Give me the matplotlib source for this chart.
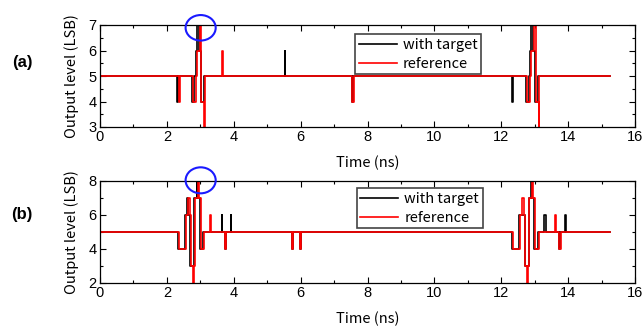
import matplotlib
matplotlib.use("Agg")
import matplotlib.pyplot as plt
from matplotlib.patches import Ellipse
from matplotlib.ticker import MultipleLocator

# step data: time (ns) where the level changes, and the level from then on
ta_target = [0, 2.30, 2.33, 2.74, 2.82, 2.88, 2.91, 2.95, 3.02, 3.10, 5.52, 5.54,
             7.53, 7.57, 12.32, 12.34, 12.75, 12.83, 12.87, 12.89, 12.95, 13.02, 13.10, 15.25]
va_target = [5, 4, 5, 4, 5, 6, 7, 6, 4, 5, 6, 5,
             4, 5, 4, 5, 4, 5, 6, 7, 6, 4, 5, 5]
ta_ref = [0, 2.35, 2.38, 2.79, 2.86, 2.89, 2.98, 3.01, 3.03, 3.11, 3.13, 3.66, 3.68,
          7.55, 7.60, 12.77, 12.85, 12.89, 12.97, 13.03, 13.05, 13.12, 13.14, 15.25]
va_ref = [5, 4, 5, 4, 5, 6, 7, 6, 4, 3, 5, 6, 5,
          4, 5, 4, 5, 6, 7, 6, 4, 3, 5, 5]

tb_target = [0, 2.33, 2.54, 2.61, 2.63, 2.70, 2.82, 2.89, 2.91, 2.99, 3.09, 3.64, 3.66,
             3.73, 3.77, 3.91, 3.93, 5.74, 5.77, 5.98, 6.00,
             12.33, 12.54, 12.70, 12.82, 12.89, 12.91, 12.99, 13.09, 13.29, 13.35,
             13.74, 13.77, 13.91, 13.93, 15.25]
vb_target = [5, 4, 6, 7, 6, 3, 7, 8, 7, 4, 5, 6, 5,
             4, 5, 6, 5, 4, 5, 4, 5,
             4, 6, 3, 7, 8, 7, 4, 5, 6, 5,
             4, 5, 6, 5, 5]
tb_ref = [0, 2.35, 2.57, 2.64, 2.68, 2.71, 2.77, 2.80, 2.84, 2.92, 2.95, 3.01, 3.11,
          3.30, 3.32, 3.74, 3.78, 5.74, 5.77, 5.98, 6.00,
          12.34, 12.55, 12.63, 12.67, 12.71, 12.77, 12.80, 12.84, 12.92, 12.95, 13.02, 13.12,
          13.62, 13.64, 13.74, 13.78, 15.25]
vb_ref = [5, 4, 6, 7, 6, 3, 2, 3, 7, 8, 7, 4, 5,
          6, 5, 4, 5, 4, 5, 4, 5,
          4, 6, 7, 6, 3, 2, 3, 7, 8, 7, 4, 5,
          6, 5, 4, 5, 5]

jp = ["Noto Sans CJK JP", "DejaVu Sans"]
plt.rcParams['font.family'] = ["Liberation Sans", "DejaVu Sans"]

fig = plt.figure(figsize=(6.44, 3.31), dpi=100)
ax1 = fig.add_axes([100/644, 1-127/331, 535/644, 102/331])
ax2 = fig.add_axes([100/644, 1-283/331, 535/644, 102/331])

panels = [
    (ax1, ta_target, va_target, ta_ref, va_ref, (3, 7), 1, 0.5, "(a)", 63, (0.477, 0.912), (3.01, 6.89, 0.9, 1.0)),
    (ax2, tb_target, vb_target, tb_ref, vb_ref, (2, 8), 2, 1, "(b)", 215, (0.480, 0.931), (3.01, 8.04, 0.9, 1.53)),
]

for ax, tt, vt, tr, vr, ylim, ymaj, ymin, tag, tagy, lpos, ell in panels:
    ax.step(tt, vt, where='post', color='black', lw=1.2, label='with target')
    ax.step(tr, vr, where='post', color='#ff0000', lw=1.2, label='reference')
    ax.set_xlim(0, 16)
    ax.set_ylim(*ylim)
    ax.xaxis.set_major_locator(MultipleLocator(2))
    ax.xaxis.set_minor_locator(MultipleLocator(1))
    ax.yaxis.set_major_locator(MultipleLocator(ymaj))
    ax.yaxis.set_minor_locator(MultipleLocator(ymin))
    ax.tick_params(which='both', direction='in', top=True, right=True, labelsize=10.5, pad=2.5)
    ax.tick_params(which='major', length=4, width=0.8)
    ax.tick_params(which='minor', length=2.5, width=0.8)
    for s in ax.spines.values():
        s.set_linewidth(0.9)
    ax.set_xlabel("Time (ns)", family=jp, fontsize=10.5, labelpad=8)
    ax.set_ylabel("Output level (LSB)", family=jp, fontsize=10.5, labelpad=7)
    leg = ax.legend(loc='upper left', bbox_to_anchor=lpos, borderaxespad=0,
                    frameon=True, fancybox=False, framealpha=1, edgecolor='#444444',
                    prop={'family': jp, 'size': 10.5}, handlelength=2.6,
                    handletextpad=0.4, labelspacing=0.35, borderpad=0.25)
    leg.get_frame().set_linewidth(1.2)
    ex, ey, ew, eh = ell
    ax.add_patch(Ellipse((ex, ey), ew, eh, fill=False, edgecolor='#1a1aff', lw=1.5, clip_on=False, zorder=5))
    fig.text(22/644, 1-tagy/331, tag, fontsize=12, fontweight='bold', ha='center', va='center')

fig.savefig("out.png", dpi=100)
